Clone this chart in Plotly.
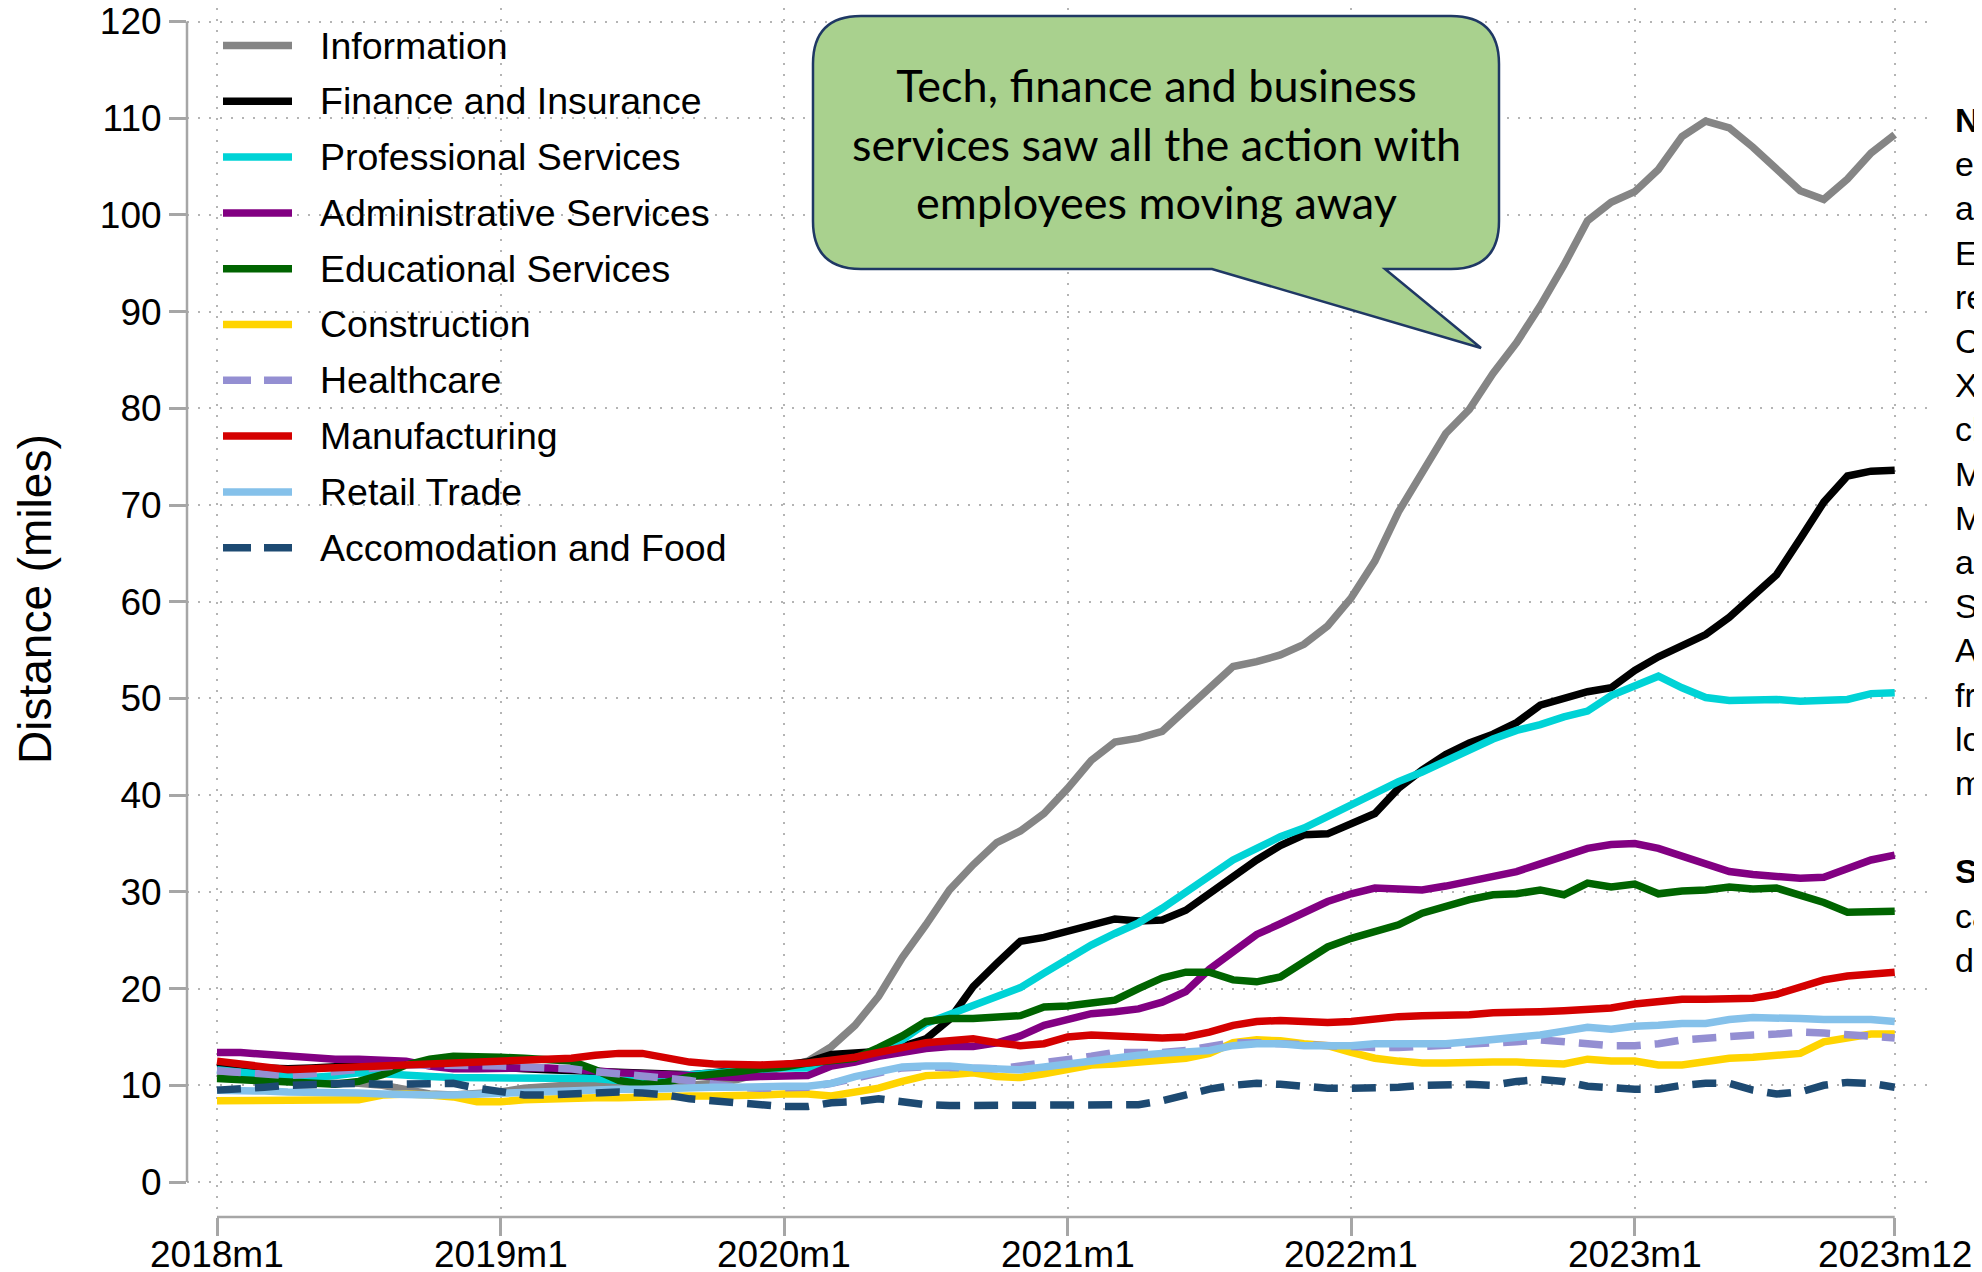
import plotly.graph_objects as go

# ---------------- data ----------------
months = [f"{y}m{m}" for y in range(2018, 2024) for m in range(1, 13)]
tick_months = ["2018m1", "2019m1", "2020m1", "2021m1", "2022m1", "2023m1", "2023m12"]
y_ticks = list(range(0, 121, 10))

information = [11.0, 10.8, 10.6, 10.4, 10.3, 10.2, 10.2, 10.0, 9.5, 9.1, 9.0, 9.1,
               9.3, 9.7, 9.9, 10.1, 10.2, 10.3, 10.3, 10.2, 10.0, 10.2, 10.6, 11.2,
               11.9, 12.5, 14.0, 16.2, 19.2, 23.2, 26.6, 30.2, 32.8, 35.1, 36.3, 38.1,
               40.7, 43.6, 45.5, 45.9, 46.6, 48.9, 51.1, 53.3, 53.8, 54.5, 55.6, 57.5,
               60.4, 64.2, 69.3, 73.4, 77.4, 79.9, 83.6, 86.8, 90.6, 94.8, 99.4, 101.3,
               102.4, 104.7, 108.1, 109.7, 109.0, 107.0, 104.7, 102.5, 101.6, 103.7, 106.4, 108.3]
finance = [11.8, 11.9, 11.8, 11.7, 11.8, 11.9, 12.0, 12.2, 12.3, 12.2, 12.0, 12.0,
           11.8, 11.7, 11.6, 11.5, 11.4, 11.3, 11.2, 11.1, 11.1, 11.3, 11.6, 11.9,
           12.2, 12.4, 13.2, 13.3, 13.5, 14.0, 14.8, 16.8, 20.2, 22.6, 24.9, 25.3,
           26.0, 26.5, 27.2, 27.0, 27.1, 28.1, 29.8, 31.7, 33.3, 34.8, 35.9, 36.0,
           37.1, 38.1, 40.7, 42.6, 44.2, 45.4, 46.3, 47.5, 49.3, 50.1, 50.7, 51.1,
           52.9, 54.3, 55.4, 56.6, 58.4, 60.6, 62.8, 66.5, 70.3, 73.0, 73.5, 73.6]
professional = [11.6, 11.3, 11.1, 10.9, 10.8, 11.0, 11.3, 11.2, 11.0, 10.9, 10.8, 10.8,
                10.8, 10.8, 10.8, 10.8, 10.7, 10.5, 10.6, 10.9, 11.1, 11.3, 11.5, 11.7,
                11.8, 11.8, 12.2, 12.7, 13.7, 14.7, 16.4, 17.3, 18.3, 19.2, 20.1, 21.6,
                23.1, 24.5, 25.7, 26.8, 28.3, 30.0, 31.6, 33.3, 34.5, 35.7, 36.6, 37.8,
                39.1, 40.3, 41.4, 42.4, 43.6, 44.7, 45.8, 46.7, 47.3, 48.1, 48.7, 50.3,
                51.4, 52.3, 51.1, 50.1, 49.8, 49.8, 49.9, 49.7, 49.8, 49.9, 50.5, 50.6]
administrative = [13.4, 13.4, 13.2, 13.0, 12.8, 12.7, 12.7, 12.6, 12.5, 12.0, 11.7, 11.7,
                  11.8, 11.8, 11.8, 11.7, 11.5, 11.3, 11.2, 11.0, 10.9, 10.8, 10.8, 10.9,
                  11.0, 11.0, 12.0, 12.4, 13.0, 13.4, 13.8, 14.0, 14.0, 14.4, 15.1, 16.2,
                  16.9, 17.4, 17.6, 17.9, 18.6, 19.7, 22.0, 23.9, 25.6, 26.7, 27.8, 29.0,
                  29.8, 30.4, 30.3, 30.2, 30.6, 31.1, 31.7, 32.1, 32.9, 33.7, 34.5, 34.9,
                  35.0, 34.5, 33.7, 32.7, 32.1, 31.8, 31.6, 31.4, 31.5, 32.4, 33.3, 33.8]
educational = [10.7, 10.6, 10.5, 10.4, 10.3, 10.1, 10.4, 11.1, 12.1, 12.7, 13.0, 13.0,
               12.9, 12.8, 12.7, 12.5, 11.6, 10.5, 10.1, 10.3, 10.9, 11.1, 11.4, 11.7,
               11.9, 12.3, 12.6, 12.8, 13.9, 15.1, 16.6, 16.9, 16.9, 17.0, 17.2, 18.1,
               18.2, 18.5, 18.8, 20.0, 21.1, 21.7, 21.7, 20.9, 20.7, 21.2, 22.8, 24.3,
               25.2, 25.9, 26.6, 27.8, 28.6, 29.2, 29.7, 29.8, 30.2, 29.7, 30.9, 30.5,
               30.8, 29.8, 30.1, 30.2, 30.5, 30.3, 30.4, 29.7, 28.9, 27.9, 28.0, 28.0]
construction = [8.4, 8.4, 8.4, 8.4, 8.5, 8.5, 8.5, 9.0, 9.1, 9.0, 8.8, 8.3,
                8.3, 8.5, 8.6, 8.6, 8.7, 8.7, 8.8, 8.9, 8.9, 8.9, 8.9, 9.0,
                9.1, 9.1, 8.9, 9.3, 9.7, 10.4, 11.0, 11.1, 11.3, 10.9, 10.8, 11.2,
                11.7, 12.1, 12.2, 12.4, 12.6, 12.8, 13.3, 14.4, 14.7, 14.6, 14.3, 14.1,
                13.4, 12.8, 12.5, 12.3, 12.3, 12.4, 12.4, 12.4, 12.3, 12.2, 12.7, 12.5,
                12.5, 12.1, 12.1, 12.4, 12.8, 12.9, 13.1, 13.3, 14.5, 14.9, 15.3, 15.3]
healthcare = [11.5, 11.3, 11.1, 11.0, 11.2, 11.4, 11.7, 11.9, 12.1, 12.1, 12.1, 12.1,
              12.0, 11.9, 11.8, 11.7, 11.4, 11.2, 11.0, 10.8, 10.5, 10.1, 9.8, 9.7,
              9.7, 9.8, 10.2, 10.8, 11.4, 11.8, 11.9, 11.8, 11.7, 11.7, 12.0, 12.3,
              12.6, 13.0, 13.4, 13.4, 13.4, 13.6, 14.0, 14.4, 14.4, 14.3, 14.1, 14.0,
              14.0, 13.9, 13.9, 14.0, 14.1, 14.2, 14.4, 14.5, 14.7, 14.5, 14.4, 14.1,
              14.1, 14.3, 14.7, 14.9, 15.0, 15.2, 15.3, 15.5, 15.4, 15.2, 15.0, 14.9]
manufacturing = [12.5, 12.2, 11.9, 11.6, 11.7, 11.8, 11.9, 12.0, 12.1, 12.1, 12.2, 12.3,
                 12.4, 12.6, 12.7, 12.8, 13.1, 13.3, 13.3, 12.8, 12.4, 12.2, 12.1, 12.1,
                 12.2, 12.3, 12.6, 12.9, 13.4, 14.0, 14.4, 14.6, 14.8, 14.4, 14.1, 14.3,
                 15.0, 15.2, 15.1, 15.0, 14.9, 15.0, 15.5, 16.2, 16.6, 16.7, 16.6, 16.5,
                 16.6, 16.9, 17.1, 17.2, 17.2, 17.3, 17.5, 17.5, 17.6, 17.7, 17.8, 18.0,
                 18.4, 18.6, 18.9, 18.9, 19.0, 19.0, 19.4, 20.2, 20.9, 21.3, 21.5, 21.7]
retail = [9.5, 9.5, 9.4, 9.3, 9.3, 9.3, 9.2, 9.1, 9.0, 9.0, 9.0, 9.1,
          9.2, 9.3, 9.4, 9.5, 9.5, 9.6, 9.6, 9.7, 9.7, 9.8, 9.8, 9.9,
          9.9, 9.9, 10.2, 10.9, 11.4, 11.9, 12.0, 12.0, 11.8, 11.7, 11.6, 11.9,
          12.2, 12.6, 12.8, 13.1, 13.3, 13.4, 13.6, 14.1, 14.3, 14.3, 14.1, 14.1,
          14.1, 14.3, 14.3, 14.3, 14.3, 14.5, 14.7, 14.9, 15.2, 15.6, 16.0, 15.8,
          16.1, 16.2, 16.4, 16.4, 16.8, 17.0, 17.0, 16.9, 16.8, 16.8, 16.8, 16.6]
accommodation = [9.5, 9.6, 9.8, 10.0, 10.1, 10.2, 10.2, 10.1, 10.1, 10.2, 10.2, 9.7,
                 9.3, 9.0, 9.0, 9.1, 9.2, 9.3, 9.2, 9.0, 8.6, 8.4, 8.2, 8.0,
                 7.8, 7.8, 8.2, 8.3, 8.6, 8.3, 8.0, 7.9, 7.9, 7.9, 7.9, 7.9,
                 7.9, 7.9, 7.9, 8.0, 8.4, 9.1, 9.6, 10.0, 10.2, 10.1, 9.9, 9.7,
                 9.7, 9.7, 9.8, 10.0, 10.1, 10.1, 10.0, 10.4, 10.6, 10.4, 9.9, 9.7,
                 9.6, 9.6, 10.0, 10.2, 10.2, 9.5, 9.1, 9.3, 10.0, 10.3, 10.2, 9.8]

series_names = ["Information", "Finance and Insurance", "Professional Services",
                "Administrative Services", "Educational Services", "Construction",
                "Healthcare", "Manufacturing", "Retail Trade", "Accomodation and Food"]
series_values = [information, finance, professional, administrative, educational,
                 construction, healthcare, manufacturing, retail, accommodation]

callout_text = "Tech, finance and business<br>services saw all the action with<br>employees moving away"
notes_lines = ["<b>Notes:</b> Distance between", "employees' homes and", "a firm's office location.",
               "Employment histories from", "resumes matched to", "Census blocks.",
               "X axis shows monthly", "changes in distance.", "Moving averages.",
               "Metro areas only,", "and sectors by NAICS.", "Sectors: Administrative",
               "Accomodation and Food", "from job postings", "location data, in", "miles.", "",
               "<b>Source:</b> Authors'", "calculations using", "data."]

# ---------------- styles ----------------
colors = ["#858585", "#000000", "#00d3d6", "#820082", "#006400",
          "#ffd400", "#948fd2", "#d40000", "#85c1ea", "#1d4a72"]
dashes = ["solid"] * 6 + ["24px,14px", "solid", "solid", "24px,14px"]

PAGE_OFF = 8                      # default body margin of the html page
W, H = 1982 - PAGE_OFF, 1272 - PAGE_OFF
# plot area, in page pixels
L, R, T, B = 187, 1935, 8, 1217
FONT = "Liberation Sans, Arial, Helvetica, sans-serif"
TICK_SIZE = 37


def px_x(px):
    return (px - L) / (R - L)


def px_y(py):
    return (B - py) / (B - T)


x_idx = list(range(len(months)))
tickvals = [months.index(m) for m in tick_months]

fig = go.Figure()
for name, vals, col, dsh in zip(series_names, series_values, colors, dashes):
    fig.add_trace(go.Scatter(x=x_idx, y=vals, mode="lines", name=name,
                             line=dict(color=col, width=7.5, dash=dsh),
                             hoverinfo="skip", showlegend=False))

shapes = []
annotations = []

# axis lines spanning only the tick range (Stata style)
axis_col = "#a6a6a6"
shapes.append(dict(type="line", xref="paper", yref="y", x0=0, x1=0,
                   y0=y_ticks[0], y1=y_ticks[-1], line=dict(color=axis_col, width=2.5)))
shapes.append(dict(type="line", xref="x", yref="paper", x0=tickvals[0], x1=tickvals[-1],
                   y0=0, y1=0, line=dict(color=axis_col, width=2.5)))

# x tick labels (placed as text on the x scale so they sit as in the original)
for tv, tl in zip(tickvals, tick_months):
    annotations.append(dict(xref="x", yref="paper", x=tv, y=px_y(1254),
                            xanchor="center", yanchor="middle", showarrow=False,
                            text=tl, font=dict(family=FONT, size=TICK_SIZE, color="black")))

# custom legend
leg_y0, leg_dy = 45.5, 55.8
for k, (name, col, dsh) in enumerate(zip(series_names, colors, dashes)):
    yy = px_y(leg_y0 + k * leg_dy)
    shapes.append(dict(type="line", xref="paper", yref="paper",
                       x0=px_x(223), x1=px_x(292), y0=yy, y1=yy,
                       line=dict(color=col, width=7.5,
                                 dash=("28px,13px" if dsh != "solid" else "solid"))))
    annotations.append(dict(xref="paper", yref="paper", x=px_x(318), y=yy,
                            xanchor="left", yanchor="middle", showarrow=False,
                            text=name, font=dict(family=FONT, size=37.5, color="black")))

# callout bubble
bl, br, bt, bb, rr = 813, 1499, 16, 269, 48
tail = [(1385, bb), (1481, 348), (1212, bb)]


def P(px, py):
    return f"{px_x(px):.5f},{px_y(py):.5f}"


path = (f"M {P(bl + rr, bt)} L {P(br - rr, bt)} Q {P(br, bt)} {P(br, bt + rr)} "
        f"L {P(br, bb - rr)} Q {P(br, bb)} {P(br - rr, bb)} "
        f"L {P(*tail[0])} L {P(*tail[1])} L {P(*tail[2])} "
        f"L {P(bl + rr, bb)} Q {P(bl, bb)} {P(bl, bb - rr)} "
        f"L {P(bl, bt + rr)} Q {P(bl, bt)} {P(bl + rr, bt)} Z")
shapes.append(dict(type="path", xref="paper", yref="paper", path=path,
                   fillcolor="#a9d18e", line=dict(color="#1f3864", width=2.5), layer="above"))
annotations.append(dict(xref="paper", yref="paper", x=px_x(1156), y=px_y(143),
                        xanchor="center", yanchor="middle", showarrow=False,
                        text=callout_text, align="center",
                        font=dict(family="Lato, sans-serif", size=45, color="black")))

# y axis title
annotations.append(dict(xref="paper", yref="paper", x=px_x(35), y=px_y(599),
                        xanchor="center", yanchor="middle", showarrow=False, textangle=-90,
                        text="Distance (miles)", font=dict(family=FONT, size=46, color="black")))

# notes text on the right (clipped by the page edge as in the original)
annotations.append(dict(xref="paper", yref="paper", x=px_x(1953), y=px_y(540),
                        xanchor="left", yanchor="middle", showarrow=False, align="left",
                        text="<br>".join(notes_lines),
                        font=dict(family=FONT, size=34, color="black")))

grid = dict(showgrid=True, gridcolor="#b4b4b4", gridwidth=1.5, griddash="2px,9px")

# axis ranges derived from the reference pixel geometry
px_per_month = (1894.7 - 217.0) / (tickvals[-1] - tickvals[0])
px_per_unit = (1182.0 - 21.5) / (y_ticks[-1] - y_ticks[0])
x_range = [tickvals[0] - (217.0 - L) / px_per_month, tickvals[-1] + (R - 1894.7) / px_per_month]
y_range = [y_ticks[0] - (B - 1182.0) / px_per_unit, y_ticks[0] + (1182.0 - T) / px_per_unit]

fig.update_layout(
    width=W, height=H,
    margin=dict(l=L - PAGE_OFF, r=W - (R - PAGE_OFF), t=T - PAGE_OFF, b=H - (B - PAGE_OFF), pad=0),
    paper_bgcolor="white", plot_bgcolor="white",
    font=dict(family=FONT, size=TICK_SIZE, color="black"),
    showlegend=False,
    shapes=shapes, annotations=annotations,
    xaxis=dict(range=x_range, tickmode="array", tickvals=tickvals, automargin=False,
               showticklabels=False, ticks="outside", ticklen=18, tickwidth=2.5,
               tickcolor=axis_col, showline=False, zeroline=False, **grid),
    yaxis=dict(range=y_range, tickmode="array", tickvals=y_ticks, automargin=False,
               ticks="outside", ticklen=17, tickwidth=2.5, tickcolor=axis_col,
               showline=False, zeroline=False, ticklabelstandoff=0,
               ticklabeloverflow="allow",
               tickfont=dict(family=FONT, size=TICK_SIZE, color="black"), **grid),
)

fig.write_html("out.html")
